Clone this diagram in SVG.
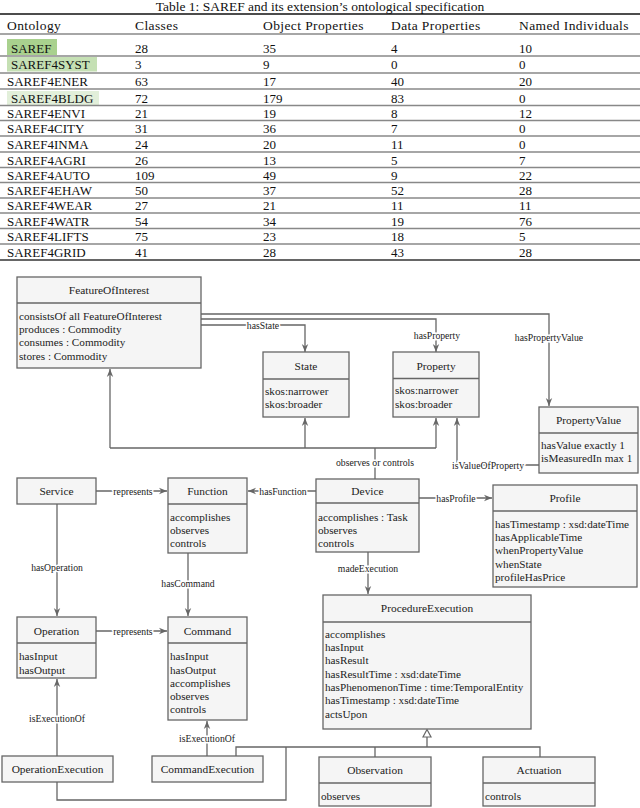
<svg xmlns="http://www.w3.org/2000/svg" width="640" height="808" viewBox="0 0 640 808" font-family="'Liberation Serif', 'Times New Roman', Times, 'DejaVu Serif', serif">
<defs>
<style>
text{font-family:'Liberation Serif','Times New Roman',Times,'DejaVu Serif',serif}
.tt{font-size:13px;fill:#111;dominant-baseline:central}
.th{font-size:13.5px;letter-spacing:0.4px}
.rule{stroke:#888;stroke-width:1.5}
.box{fill:#f5f5f5;stroke:#666;stroke-width:1.3}
.div{stroke:#666;stroke-width:1.3}
.nt{font-size:11.4px;fill:#222;text-anchor:middle;dominant-baseline:central}
.at{font-size:11.2px;fill:#222;dominant-baseline:central}
.ln{fill:none;stroke:#666;stroke-width:1.3}
.lb{font-size:9.7px;fill:#222;text-anchor:middle;dominant-baseline:central;stroke:#fff;stroke-width:3;paint-order:stroke}
</style>
<marker id="arr" viewBox="0 0 10 10" refX="10" refY="5" markerWidth="8" markerHeight="8" markerUnits="userSpaceOnUse" orient="auto">
<path d="M0,1 L10,5 L0,9 L3,5 z" fill="#666"/>
</marker>
</defs>
<rect width="640" height="808" fill="#fff"/>

<g id="table">
<text class="tt" x="320" y="6.5" text-anchor="middle" style="font-size:13.5px">Table 1: SAREF and its extension’s ontological specification</text>
<line x1="0" y1="14" x2="640" y2="14" stroke="#111" stroke-width="1.6"/>
<text class="tt th" x="7" y="25">Ontology</text>
<text class="tt th" x="135" y="25">Classes</text>
<text class="tt th" x="263" y="25">Object Properties</text>
<text class="tt th" x="391" y="25">Data Properties</text>
<text class="tt th" x="519" y="25">Named Individuals</text>
<line class="rule" x1="0" y1="34" x2="640" y2="34" stroke="#444"/>
<rect x="7" y="39" width="50" height="16" fill="#a9d18e"/>
<rect x="7" y="57" width="90" height="14.5" fill="#c5e0b4"/>
<rect x="7" y="91" width="92" height="14" fill="#e2efda"/>
<line class="rule" x1="0" y1="56" x2="640" y2="56"/>
<line class="rule" x1="0" y1="73" x2="640" y2="73"/>
<line class="rule" x1="0" y1="89" x2="640" y2="89"/>
<line class="rule" x1="0" y1="105.5" x2="640" y2="105.5"/>
<line class="rule" x1="0" y1="120.5" x2="640" y2="120.5"/>
<line class="rule" x1="0" y1="136" x2="640" y2="136"/>
<line class="rule" x1="0" y1="152" x2="640" y2="152"/>
<line class="rule" x1="0" y1="167.5" x2="640" y2="167.5"/>
<line class="rule" x1="0" y1="182.5" x2="640" y2="182.5"/>
<line class="rule" x1="0" y1="198" x2="640" y2="198"/>
<line class="rule" x1="0" y1="213" x2="640" y2="213"/>
<line class="rule" x1="0" y1="228.5" x2="640" y2="228.5"/>
<line class="rule" x1="0" y1="244" x2="640" y2="244"/>
<line x1="0" y1="260" x2="640" y2="260" stroke="#333" stroke-width="1.6"/>

<text class="tt" x="11" y="48">SAREF</text><text class="tt" x="135" y="48">28</text><text class="tt" x="263" y="48">35</text><text class="tt" x="391" y="48">4</text><text class="tt" x="519" y="48">10</text>
<text class="tt" x="11" y="64">SAREF4SYST</text><text class="tt" x="135" y="64">3</text><text class="tt" x="263" y="64">9</text><text class="tt" x="391" y="64">0</text><text class="tt" x="519" y="64">0</text>
<text class="tt" x="7" y="81">SAREF4ENER</text><text class="tt" x="135" y="81">63</text><text class="tt" x="263" y="81">17</text><text class="tt" x="391" y="81">40</text><text class="tt" x="519" y="81">20</text>
<text class="tt" x="11" y="98">SAREF4BLDG</text><text class="tt" x="135" y="98">72</text><text class="tt" x="263" y="98">179</text><text class="tt" x="391" y="98">83</text><text class="tt" x="519" y="98">0</text>
<text class="tt" x="7" y="113">SAREF4ENVI</text><text class="tt" x="135" y="113">21</text><text class="tt" x="263" y="113">19</text><text class="tt" x="391" y="113">8</text><text class="tt" x="519" y="113">12</text>
<text class="tt" x="7" y="128">SAREF4CITY</text><text class="tt" x="135" y="128">31</text><text class="tt" x="263" y="128">36</text><text class="tt" x="391" y="128">7</text><text class="tt" x="519" y="128">0</text>
<text class="tt" x="7" y="144">SAREF4INMA</text><text class="tt" x="135" y="144">24</text><text class="tt" x="263" y="144">20</text><text class="tt" x="391" y="144">11</text><text class="tt" x="519" y="144">0</text>
<text class="tt" x="7" y="160">SAREF4AGRI</text><text class="tt" x="135" y="160">26</text><text class="tt" x="263" y="160">13</text><text class="tt" x="391" y="160">5</text><text class="tt" x="519" y="160">7</text>
<text class="tt" x="7" y="175">SAREF4AUTO</text><text class="tt" x="135" y="175">109</text><text class="tt" x="263" y="175">49</text><text class="tt" x="391" y="175">9</text><text class="tt" x="519" y="175">22</text>
<text class="tt" x="7" y="190">SAREF4EHAW</text><text class="tt" x="135" y="190">50</text><text class="tt" x="263" y="190">37</text><text class="tt" x="391" y="190">52</text><text class="tt" x="519" y="190">28</text>
<text class="tt" x="7" y="205.5">SAREF4WEAR</text><text class="tt" x="135" y="205.5">27</text><text class="tt" x="263" y="205.5">21</text><text class="tt" x="391" y="205.5">11</text><text class="tt" x="519" y="205.5">11</text>
<text class="tt" x="7" y="221">SAREF4WATR</text><text class="tt" x="135" y="221">54</text><text class="tt" x="263" y="221">34</text><text class="tt" x="391" y="221">19</text><text class="tt" x="519" y="221">76</text>
<text class="tt" x="7" y="236">SAREF4LIFTS</text><text class="tt" x="135" y="236">75</text><text class="tt" x="263" y="236">23</text><text class="tt" x="391" y="236">18</text><text class="tt" x="519" y="236">5</text>
<text class="tt" x="7" y="252">SAREF4GRID</text><text class="tt" x="135" y="252">41</text><text class="tt" x="263" y="252">28</text><text class="tt" x="391" y="252">43</text><text class="tt" x="519" y="252">28</text>
</g>

<g id="connectors">
<polyline class="ln" points="201,325 305,325 305,352" marker-end="url(#arr)"/>
<polyline class="ln" points="201,319 436,319 436,352" marker-end="url(#arr)"/>
<polyline class="ln" points="201,314 549,314 549,406" marker-end="url(#arr)"/>
<polyline class="ln" points="375,479 375,448"/>
<polyline class="ln" points="110,448 436,448"/>
<line class="ln" x1="110" y1="448" x2="110" y2="369" marker-end="url(#arr)"/>
<line class="ln" x1="305" y1="448" x2="305" y2="418" marker-end="url(#arr)"/>
<line class="ln" x1="436" y1="448" x2="436" y2="418" marker-end="url(#arr)"/>
<polyline class="ln" points="539,465 457,465 457,418" marker-end="url(#arr)"/>
<line class="ln" x1="419" y1="498" x2="492" y2="498" marker-end="url(#arr)"/>
<line class="ln" x1="96" y1="491" x2="167" y2="491" marker-end="url(#arr)"/>
<line class="ln" x1="316" y1="491" x2="248" y2="491" marker-end="url(#arr)"/>
<line class="ln" x1="57" y1="504" x2="57" y2="616" marker-end="url(#arr)"/>
<line class="ln" x1="188" y1="553" x2="188" y2="616" marker-end="url(#arr)"/>
<line class="ln" x1="96" y1="631" x2="167" y2="631" marker-end="url(#arr)"/>
<line class="ln" x1="57" y1="756" x2="57" y2="679" marker-end="url(#arr)"/>
<line class="ln" x1="207" y1="756" x2="207" y2="721" marker-end="url(#arr)"/>
<line class="ln" x1="368" y1="552" x2="368" y2="594" marker-end="url(#arr)"/>
<polyline class="ln" points="236,756 236,747 540,747 540,757"/>
<polyline class="ln" points="57,782 57,800 286,800 286,747"/>
<line class="ln" x1="375" y1="747" x2="375" y2="757"/>
<line class="ln" x1="427" y1="747" x2="427" y2="737"/>
<polygon points="427,729.5 423,737 431,737" fill="#fff" stroke="#666" stroke-width="1.2"/>
<text class="lb" x="263" y="325">hasState</text>
<text class="lb" x="437" y="335">hasProperty</text>
<text class="lb" x="549" y="337">hasPropertyValue</text>
<text class="lb" x="375" y="462">observes or controls</text>
<text class="lb" x="488" y="465">isValueOfProperty</text>
<text class="lb" x="456" y="498">hasProfile</text>
<text class="lb" x="133" y="491">represents</text>
<text class="lb" x="283" y="491">hasFunction</text>
<text class="lb" x="57" y="567">hasOperation</text>
<text class="lb" x="188" y="583">hasCommand</text>
<text class="lb" x="133" y="631">represents</text>
<text class="lb" x="57" y="718">isExecutionOf</text>
<text class="lb" x="207" y="738">isExecutionOf</text>
<text class="lb" x="368" y="568">madeExecution</text>
</g>

<g id="FeatureOfInterest">
<rect class="box" x="17" y="277" width="184" height="91"/>
<line class="div" x1="17" y1="303" x2="201" y2="303"/>
<text class="nt" x="109" y="290">FeatureOfInterest</text>
<text class="at" x="19" y="316">consistsOf all FeatureOfInterest</text>
<text class="at" x="19" y="329">produces : Commodity</text>
<text class="at" x="19" y="342">consumes : Commodity</text>
<text class="at" x="19" y="355.5">stores : Commodity</text>
</g>

<g id="State">
<rect class="box" x="263" y="352" width="86" height="65"/>
<line class="div" x1="263" y1="379" x2="349" y2="379"/>
<text class="nt" x="306" y="366">State</text>
<text class="at" x="265" y="391">skos:narrower</text>
<text class="at" x="265" y="404">skos:broader</text>
</g>

<g id="Property">
<rect class="box" x="393" y="352" width="86" height="65"/>
<line class="div" x1="393" y1="378.5" x2="479" y2="378.5"/>
<text class="nt" x="436" y="366">Property</text>
<text class="at" x="395" y="390">skos:narrower</text>
<text class="at" x="395" y="403.5">skos:broader</text>
</g>

<g id="PropertyValue">
<rect class="box" x="539" y="407" width="99" height="66"/>
<line class="div" x1="539" y1="433" x2="638" y2="433"/>
<text class="nt" x="588.5" y="420">PropertyValue</text>
<text class="at" x="541" y="444.5">hasValue exactly 1</text>
<text class="at" x="541" y="458">isMeasuredIn max 1</text>
</g>

<g id="Service">
<rect class="box" x="17" y="478" width="79" height="26"/>
<text class="nt" x="56.5" y="491">Service</text>
</g>

<g id="Function">
<rect class="box" x="168" y="478" width="79" height="75"/>
<line class="div" x1="168" y1="504" x2="247" y2="504"/>
<text class="nt" x="207.5" y="491">Function</text>
<text class="at" x="170" y="516.5">accomplishes</text>
<text class="at" x="170" y="530">observes</text>
<text class="at" x="170" y="543">controls</text>
</g>

<g id="Device">
<rect class="box" x="316" y="479" width="103" height="73"/>
<line class="div" x1="316" y1="503" x2="419" y2="503"/>
<text class="nt" x="367.5" y="491">Device</text>
<text class="at" x="318" y="517">accomplishes : Task</text>
<text class="at" x="318" y="530">observes</text>
<text class="at" x="318" y="543">controls</text>
</g>

<g id="Profile">
<rect class="box" x="493" y="485" width="144" height="102"/>
<line class="div" x1="493" y1="511" x2="637" y2="511"/>
<text class="nt" x="565" y="498">Profile</text>
<text class="at" x="495" y="523.5">hasTimestamp : xsd:dateTime</text>
<text class="at" x="495" y="537">hasApplicableTime</text>
<text class="at" x="495" y="550">whenPropertyValue</text>
<text class="at" x="495" y="563.5">whenState</text>
<text class="at" x="495" y="577">profileHasPrice</text>
</g>

<g id="Operation">
<rect class="box" x="17" y="617" width="79" height="61"/>
<line class="div" x1="17" y1="643" x2="96" y2="643"/>
<text class="nt" x="56.5" y="630.5">Operation</text>
<text class="at" x="19" y="656">hasInput</text>
<text class="at" x="19" y="669.5">hasOutput</text>
</g>

<g id="Command">
<rect class="box" x="168" y="617" width="79" height="103"/>
<line class="div" x1="168" y1="643" x2="247" y2="643"/>
<text class="nt" x="207.5" y="630.5">Command</text>
<text class="at" x="170" y="656">hasInput</text>
<text class="at" x="170" y="669.5">hasOutput</text>
<text class="at" x="170" y="682.5">accomplishes</text>
<text class="at" x="170" y="696">observes</text>
<text class="at" x="170" y="709">controls</text>
</g>

<g id="ProcedureExecution">
<rect class="box" x="323" y="595" width="208" height="134"/>
<line class="div" x1="323" y1="622" x2="531" y2="622"/>
<text class="nt" x="427" y="608">ProcedureExecution</text>
<text class="at" x="325" y="633.5">accomplishes</text>
<text class="at" x="325" y="647">hasInput</text>
<text class="at" x="325" y="660">hasResult</text>
<text class="at" x="325" y="673.5">hasResultTime : xsd:dateTime</text>
<text class="at" x="325" y="687">hasPhenomenonTime : time:TemporalEntity</text>
<text class="at" x="325" y="700">hasTimestamp : xsd:dateTime</text>
<text class="at" x="325" y="714">actsUpon</text>
</g>

<g id="OperationExecution">
<rect class="box" x="2" y="756" width="111" height="26"/>
<text class="nt" x="57.5" y="769">OperationExecution</text>
</g>

<g id="CommandExecution">
<rect class="box" x="152" y="756" width="111" height="26"/>
<text class="nt" x="207.5" y="769">CommandExecution</text>
</g>

<g id="Observation">
<rect class="box" x="319" y="757" width="112" height="49"/>
<line class="div" x1="319" y1="783" x2="431" y2="783"/>
<text class="nt" x="375" y="770">Observation</text>
<text class="at" x="321" y="795.5">observes</text>
</g>

<g id="Actuation">
<rect class="box" x="483" y="757" width="112" height="49"/>
<line class="div" x1="483" y1="783" x2="595" y2="783"/>
<text class="nt" x="539" y="770">Actuation</text>
<text class="at" x="485" y="795.5">controls</text>
</g>
</svg>
